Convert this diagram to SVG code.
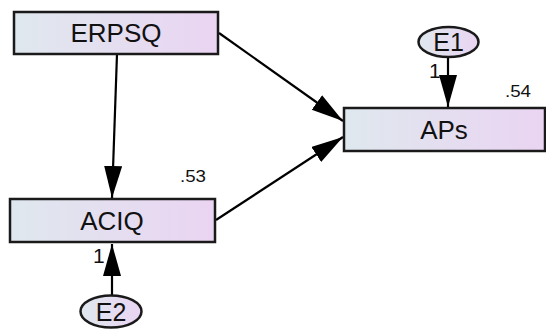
<svg xmlns="http://www.w3.org/2000/svg" width="546" height="331" viewBox="0 0 546 331">
<defs>
<linearGradient id="g" x1="0" y1="0" x2="1" y2="0">
<stop offset="0" stop-color="#dfe8ee"/>
<stop offset="1" stop-color="#ead4f2"/>
</linearGradient>
<marker id="ah" markerUnits="userSpaceOnUse" markerWidth="34" markerHeight="20" refX="32" refY="9" orient="auto" viewBox="0 0 34 20">
<path d="M0,0 L32,9 L0,18 z" fill="#000"/>
</marker>
<style>
.box{fill:url(#g);stroke:#1a1a1a;stroke-width:2.5}
.lbl{font-family:"Liberation Sans",Arial,sans-serif;font-size:26px;fill:#111;text-anchor:middle}
.el{font-family:"Liberation Sans",Arial,sans-serif;font-size:25px;fill:#111;text-anchor:middle}
.sm{font-family:"Liberation Sans",Arial,sans-serif;font-size:16px;fill:#111}
.one{font-family:"Liberation Sans",Arial,sans-serif;font-size:21px;fill:#111}
.con{stroke:#000;stroke-width:2.2;fill:none;marker-end:url(#ah)}
</style>
</defs>
<g id="connectors">
<line class="con" x1="117" y1="54" x2="112" y2="198"/>
<line class="con" x1="219" y1="33" x2="343" y2="121"/>
<line class="con" x1="216" y1="220" x2="343" y2="137"/>
<line class="con" x1="448" y1="57" x2="448" y2="107"/>
<line class="con" x1="112" y1="295" x2="112" y2="244"/>
</g>
<g id="ERPSQ">
<rect class="box" x="14" y="12" width="204" height="42"/>
<text class="lbl" x="116" y="42">ERPSQ</text>
</g>
<g id="APs">
<rect class="box" x="344" y="108" width="201" height="43"/>
<text class="lbl" x="444" y="139">APs</text>
<text class="sm" x="505" y="97" textLength="26" lengthAdjust="spacingAndGlyphs">.54</text>
</g>
<g id="ACIQ">
<rect class="box" x="10" y="199" width="205" height="43"/>
<text class="lbl" x="112" y="230">ACIQ</text>
<text class="sm" x="180" y="182" textLength="26" lengthAdjust="spacingAndGlyphs">.53</text>
</g>
<g id="E1">
<ellipse class="box" cx="448.5" cy="42" rx="30" ry="15"/>
<text class="el" x="448.5" y="51">E1</text>
<text class="one" x="429" y="78">1</text>
</g>
<g id="E2">
<ellipse class="box" cx="111" cy="311.5" rx="30.5" ry="16"/>
<text class="el" x="111" y="320.5">E2</text>
<text class="one" x="93" y="263">1</text>
</g>
</svg>
